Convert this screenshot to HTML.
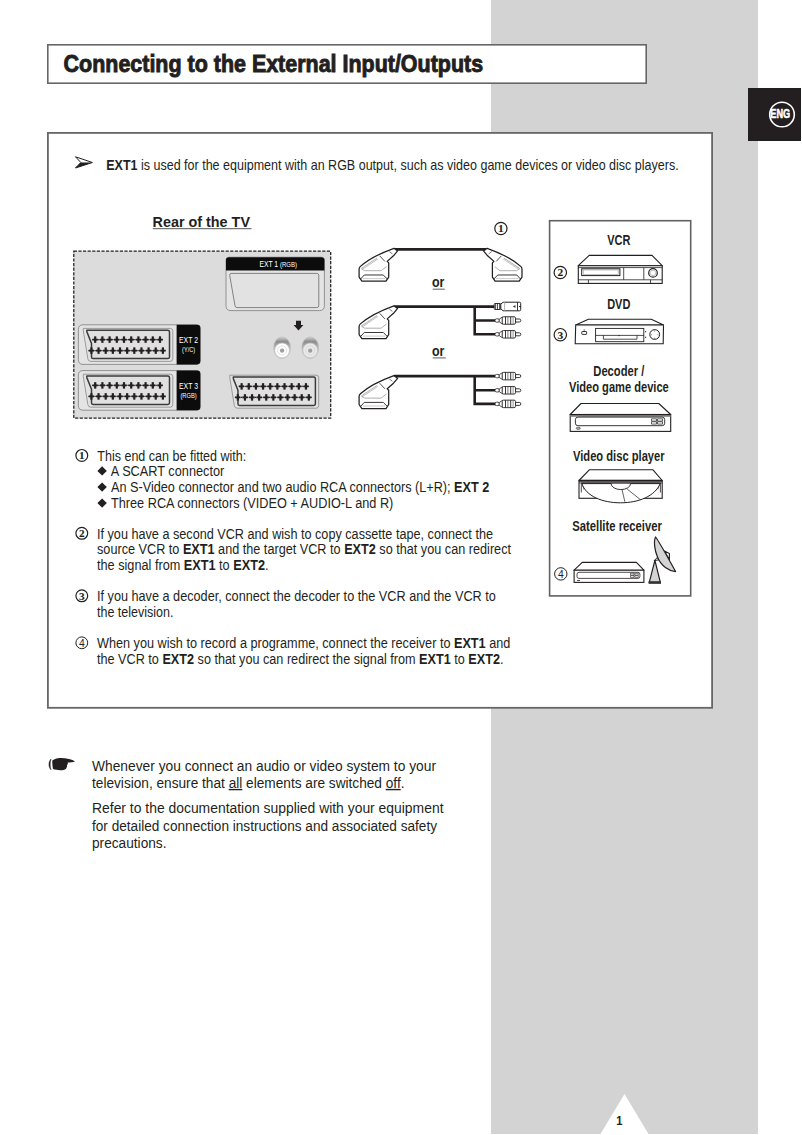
<!DOCTYPE html>
<html><head><meta charset="utf-8">
<style>
html,body{margin:0;padding:0;background:#fff;}
body{width:802px;height:1135px;overflow:hidden;position:relative;font-family:"Liberation Sans",sans-serif;}
svg{position:absolute;left:0;top:0;}
.t{font-family:"Liberation Sans",sans-serif;fill:#231f20;}
.b{font-weight:bold;}
</style></head><body>
<svg width="802" height="1135" viewBox="0 0 802 1135">
<rect x="491" y="0" width="267" height="1134" fill="#d3d3d3"/>
<polygon points="624.5,1094 648.5,1134 600.5,1134" fill="#fff"/>
<text class="t b" x="616.3" y="1125" font-size="12.5" textLength="6.2" lengthAdjust="spacingAndGlyphs" >1</text>
<rect x="748" y="88" width="53" height="53" fill="#231f20"/>
<circle cx="782" cy="114.5" r="12.3" fill="none" stroke="#fff" stroke-width="1.6"/>
<text class="b" x="770.3" y="117.8" font-size="12.4" fill="#fff" stroke="#fff" stroke-width="0.55" font-family="Liberation Sans" textLength="19.8" lengthAdjust="spacingAndGlyphs">ENG</text>
<rect x="47.8" y="44.8" width="598.4" height="38.4" fill="#fff" stroke="#666" stroke-width="1.6"/>
<text class="t b" x="63.6" y="71.8" font-size="23.2" textLength="419.5" lengthAdjust="spacingAndGlyphs" stroke="#231f20" stroke-width="0.9">Connecting to the External Input/Outputs</text>
<rect x="47.9" y="132.9" width="664.2" height="574.9" fill="#fff" stroke="#666" stroke-width="1.8"/>
<rect x="549.6" y="220.7" width="141.1" height="375.2" fill="#fff" stroke="#616161" stroke-width="1.6"/>
<path d="M75.5,156.8 L92.4,162.5 L75.5,168 L80.8,162.5 Z" fill="#fff" stroke="#231f20" stroke-width="1"/>
<path d="M80.8,162.5 L92.4,162.5 L75.5,168 Z" fill="#231f20"/>
<text class="t" x="106.2" y="170.0" font-size="14.1" textLength="572.5" lengthAdjust="spacingAndGlyphs" ><tspan font-weight="bold">EXT1</tspan> is used for the equipment with an RGB output, such as video game devices or video disc players.</text>
<text class="t b" x="152.5" y="226.7" font-size="15.3" textLength="97.5" lengthAdjust="spacingAndGlyphs" >Rear of the TV</text>
<line x1="152.8" y1="228.7" x2="251.5" y2="228.7" stroke="#555" stroke-width="1"/>
<text class="t b" x="432" y="286.8" font-size="15" textLength="12.4" lengthAdjust="spacingAndGlyphs" >or</text>
<line x1="432.7" y1="289.2" x2="444.8" y2="289.2" stroke="#777" stroke-width="1.2"/>
<text class="t b" x="432" y="355.7" font-size="15" textLength="12.4" lengthAdjust="spacingAndGlyphs" >or</text>
<line x1="432.7" y1="357.9" x2="445.8" y2="357.9" stroke="#777" stroke-width="1.2"/>
<circle cx="500.9" cy="228.5" r="6.1" fill="none" stroke="#231f20" stroke-width="1.2"/>
<text x="500.9" y="232.319" font-size="11.4" font-family="Liberation Serif" font-weight="bold" fill="#231f20" stroke="#231f20" stroke-width="0.1" text-anchor="middle">1</text>
<text class="t b" x="607.2" y="244.9" font-size="14" textLength="23.2" lengthAdjust="spacingAndGlyphs" >VCR</text>
<text class="t b" x="607.2" y="308.8" font-size="14" textLength="23.2" lengthAdjust="spacingAndGlyphs" >DVD</text>
<text class="t b" x="593.3" y="375.8" font-size="14" textLength="51" lengthAdjust="spacingAndGlyphs" >Decoder /</text>
<text class="t b" x="569" y="391.5" font-size="14" textLength="99.8" lengthAdjust="spacingAndGlyphs" >Video game device</text>
<text class="t b" x="573" y="460.8" font-size="14" textLength="91.6" lengthAdjust="spacingAndGlyphs" >Video disc player</text>
<text class="t b" x="572.3" y="531" font-size="14" textLength="89.6" lengthAdjust="spacingAndGlyphs" >Satellite receiver</text>
<circle cx="81.8" cy="455.4" r="5.9" fill="none" stroke="#231f20" stroke-width="1.2"/>
<text x="81.8" y="459.152" font-size="11.2" font-family="Liberation Serif" font-weight="bold" fill="#231f20" stroke="#231f20" stroke-width="0.1" text-anchor="middle">1</text>
<text class="t" x="97.3" y="461.0" font-size="14" textLength="149" lengthAdjust="spacingAndGlyphs" >This end can be fitted with:</text>
<path d="M102.1,466.29999999999995 L106.8,470.9 L102.1,475.5 L97.39999999999999,470.9 Z" fill="#231f20"/>
<text class="t" x="110.8" y="475.6" font-size="14" textLength="113.5" lengthAdjust="spacingAndGlyphs" >A SCART connector</text>
<path d="M102.1,482.5 L106.8,487.1 L102.1,491.70000000000005 L97.39999999999999,487.1 Z" fill="#231f20"/>
<text class="t" x="111" y="492.1" font-size="14" textLength="378.3" lengthAdjust="spacingAndGlyphs" >An S-Video connector and two audio RCA connectors (L+R); <tspan font-weight="bold">EXT 2</tspan></text>
<path d="M102.1,498.5 L106.8,503.1 L102.1,507.70000000000005 L97.39999999999999,503.1 Z" fill="#231f20"/>
<text class="t" x="111" y="508.0" font-size="14" textLength="282.3" lengthAdjust="spacingAndGlyphs" >Three RCA connectors (VIDEO + AUDIO-L and R)</text>
<circle cx="81.8" cy="533.3" r="5.9" fill="none" stroke="#231f20" stroke-width="1.2"/>
<text x="81.8" y="537.0519999999999" font-size="11.2" font-family="Liberation Serif" font-weight="bold" fill="#231f20" stroke="#231f20" stroke-width="0.1" text-anchor="middle">2</text>
<text class="t" x="97" y="538.8" font-size="14" textLength="396" lengthAdjust="spacingAndGlyphs" >If you have a second VCR and wish to copy cassette tape, connect the</text>
<text class="t" x="97" y="554.0" font-size="14" textLength="414" lengthAdjust="spacingAndGlyphs" >source VCR to <tspan font-weight="bold">EXT1</tspan> and the target VCR to <tspan font-weight="bold">EXT2</tspan> so that you can redirect</text>
<text class="t" x="97" y="569.8" font-size="14" textLength="171.5" lengthAdjust="spacingAndGlyphs" >the signal from <tspan font-weight="bold">EXT1</tspan> to <tspan font-weight="bold">EXT2</tspan>.</text>
<circle cx="81.8" cy="595.8" r="5.9" fill="none" stroke="#231f20" stroke-width="1.2"/>
<text x="81.8" y="599.5519999999999" font-size="11.2" font-family="Liberation Serif" font-weight="bold" fill="#231f20" stroke="#231f20" stroke-width="0.1" text-anchor="middle">3</text>
<text class="t" x="97" y="601.3" font-size="14" textLength="398.8" lengthAdjust="spacingAndGlyphs" >If you have a decoder, connect the decoder to the VCR and the VCR to</text>
<text class="t" x="97" y="616.9" font-size="14" textLength="76.5" lengthAdjust="spacingAndGlyphs" >the television.</text>
<circle cx="81.8" cy="642.8" r="5.9" fill="none" stroke="#231f20" stroke-width="1.0"/>
<text x="81.8" y="646.5" font-size="10.4" font-family="Liberation Sans" fill="#231f20" text-anchor="middle">4</text>
<text class="t" x="97" y="648.0" font-size="14" textLength="413.3" lengthAdjust="spacingAndGlyphs" >When you wish to record a programme, connect the receiver to <tspan font-weight="bold">EXT1</tspan> and</text>
<text class="t" x="97" y="663.5" font-size="14" textLength="406.5" lengthAdjust="spacingAndGlyphs" >the VCR to <tspan font-weight="bold">EXT2</tspan> so that you can redirect the signal from <tspan font-weight="bold">EXT1</tspan> to <tspan font-weight="bold">EXT2</tspan>.</text>
<text class="t" x="92" y="771.2" font-size="13.8" textLength="344" lengthAdjust="spacingAndGlyphs" >Whenever you connect an audio or video system to your</text>
<text class="t" x="92" y="787.9" font-size="13.8" textLength="312.5" lengthAdjust="spacingAndGlyphs" >television, ensure that <tspan text-decoration="underline">all</tspan> elements are switched <tspan text-decoration="underline">off</tspan>.</text>
<text class="t" x="92" y="813.1" font-size="13.8" textLength="351.5" lengthAdjust="spacingAndGlyphs" >Refer to the documentation supplied with your equipment</text>
<text class="t" x="92" y="830.8" font-size="13.8" textLength="345" lengthAdjust="spacingAndGlyphs" >for detailed connection instructions and associated safety</text>
<text class="t" x="92" y="848.0" font-size="13.8" textLength="74.5" lengthAdjust="spacingAndGlyphs" >precautions.</text>
<path d="M52.3,760.6 C54,759.3 56,758.5 58,758.2 C61,757.7 65,758 69,759.1 C71.5,759.8 73.5,760.5 75,761.4 C73.5,762 70,762.3 67.5,762.5 C68.2,763.3 68,764.5 66.8,765.3 C67.3,766 67.3,767 66.5,767.6 C66.5,768.8 65.5,769.8 63.7,770 C60,770.4 56,770.2 53,769.1 C52.4,766 52.2,763 52.3,760.6 Z" fill="#231f20"/>
<path d="M51,759.1 C48.3,761.8 48.3,767.2 51,769.8 C49.9,767 49.9,762 51,759.1 Z" fill="#231f20" stroke="#231f20" stroke-width="0.5"/>
<defs>
<g id="rca">
<rect x="0" y="-1.7" width="4.5" height="3.4" rx="1.6" fill="#fff" stroke="#231f20" stroke-width="0.8"/>
<path d="M4.2,-1.3 L7.5,-3.6 L7.5,3.6 L4.2,1.3 Z" fill="#fff" stroke="#231f20" stroke-width="0.8"/>
<rect x="7.2" y="-3.75" width="13.3" height="7.5" rx="1.4" fill="#fff" stroke="#231f20" stroke-width="0.9"/>
<line x1="10.5" y1="-3.7" x2="10.5" y2="3.7" stroke="#231f20" stroke-width="0.9"/>
<line x1="12.9" y1="-3.7" x2="12.9" y2="3.7" stroke="#555" stroke-width="0.8"/>
<line x1="15.7" y1="-3.7" x2="15.7" y2="3.7" stroke="#231f20" stroke-width="0.9"/>
<line x1="18.1" y1="-3.7" x2="18.1" y2="3.7" stroke="#666" stroke-width="0.7"/>
<path d="M20.5,-1.5 L24.3,-1.5 A1.5,1.5 0 0 1 24.3,1.5 L20.5,1.5 Z" fill="#fff" stroke="#231f20" stroke-width="0.9"/>
</g>
<g id="svid">
<rect x="-0.3" y="-3" width="6.6" height="6" rx="0.8" fill="#fff" stroke="#231f20" stroke-width="0.9"/>
<line x1="1.1" y1="-3" x2="1.1" y2="3" stroke="#231f20" stroke-width="0.8"/>
<line x1="3" y1="-3" x2="3" y2="3" stroke="#231f20" stroke-width="0.8"/>
<line x1="5.1" y1="-3" x2="5.1" y2="3" stroke="#231f20" stroke-width="0.8"/>
<path d="M6.3,-2.4 L8.6,-4.3 L25,-4.3 Q26.2,-4.3 26.2,-3.1 L26.2,3.1 Q26.2,4.3 25,4.3 L8.6,4.3 L6.3,2.4 Z" fill="#fff" stroke="#231f20" stroke-width="1"/>
<line x1="10.1" y1="-4.2" x2="10.1" y2="4.2" stroke="#aaa" stroke-width="0.9"/>
<line x1="23" y1="-4.2" x2="23" y2="4.2" stroke="#231f20" stroke-width="0.9"/>
<path d="M24.6,-0.4 L26.2,-0.4 L26.2,0.6 L24.6,0.6 Z" fill="#231f20"/>
<path d="M18.2,0 L21,-1.6 L21,1.6 Z" fill="#444"/>
</g>
<g id="splug">
<path d="M-2.9,-1.1 C-12,2.2 -28,9.5 -36.4,17 Q-37.7,18.2 -37.7,19.8 L-37.7,27.7 L-34.9,31.8 L-10.8,31.8 L-8.1,27.7 L-8.1,13.5 L-9.6,12 L-3.3,6.4 L0.8,1.5 Z" fill="#fff" stroke="#231f20" stroke-width="1.25" stroke-linejoin="round"/>
<path d="M-17.1,6.4 L-11.9,12" stroke="#231f20" stroke-width="0.8" fill="none"/>
<path d="M-7.4,2.2 L-4.4,4.5" stroke="#231f20" stroke-width="0.6" fill="none"/>
<path d="M-35.1,19.5 L-19.4,9" stroke="#888" stroke-width="2" stroke-dasharray="0.6,0.6" fill="none"/>
<path d="M-10.4,17.2 L-15.6,21.3 L-32.1,21.3 L-35.1,19.5" stroke="#999" stroke-width="0.8" fill="none"/>
<path d="M-9.5,29.6 L-13.5,25.6 L-32.5,25.6 L-36.2,29.6" stroke="#231f20" stroke-width="0.9" fill="none"/>
<line x1="-11.5" y1="29.2" x2="-34" y2="29.2" stroke="#bbb" stroke-width="0.8"/>
</g>
<g id="sock"><path d="M0,0 L87,0 Q89.5,0 89.5,2.5 L89.5,30.5 Q89.5,33 87,33 L7.5,33 Q5,33 4.6,30.5 L0,2.5 Z" fill="#e2e2e2" stroke="#888" stroke-width="0.8"/><path d="M3.6,1.8 L84.5,1.8 Q86.2,1.8 86.2,3.5 L86.2,28.5 Q86.2,30.2 84.5,30.2 L9.8,30.2 Q8.2,30.2 8.2,28.5 L8.2,15 L3.6,3.5 Q3.4,1.8 3.6,1.8 Z" fill="#e0e0e0" stroke="#3a3a3a" stroke-width="1.5"/><line x1="8.9" y1="11.2" x2="79.7" y2="11.2" stroke="#231f20" stroke-width="1.1" stroke-dasharray="1.3,0.7"/><rect x="10.80" y="7.949999999999999" width="2.2" height="6.5" fill="#231f20"/><rect x="9.30" y="10.299999999999999" width="5.2" height="1.8" fill="#231f20"/><rect x="18.00" y="7.949999999999999" width="2.2" height="6.5" fill="#231f20"/><rect x="16.50" y="10.299999999999999" width="5.2" height="1.8" fill="#231f20"/><rect x="25.20" y="7.949999999999999" width="2.2" height="6.5" fill="#231f20"/><rect x="23.70" y="10.299999999999999" width="5.2" height="1.8" fill="#231f20"/><rect x="32.40" y="7.949999999999999" width="2.2" height="6.5" fill="#231f20"/><rect x="30.90" y="10.299999999999999" width="5.2" height="1.8" fill="#231f20"/><rect x="39.60" y="7.949999999999999" width="2.2" height="6.5" fill="#231f20"/><rect x="38.10" y="10.299999999999999" width="5.2" height="1.8" fill="#231f20"/><rect x="46.80" y="7.949999999999999" width="2.2" height="6.5" fill="#231f20"/><rect x="45.30" y="10.299999999999999" width="5.2" height="1.8" fill="#231f20"/><rect x="54.00" y="7.949999999999999" width="2.2" height="6.5" fill="#231f20"/><rect x="52.50" y="10.299999999999999" width="5.2" height="1.8" fill="#231f20"/><rect x="61.20" y="7.949999999999999" width="2.2" height="6.5" fill="#231f20"/><rect x="59.70" y="10.299999999999999" width="5.2" height="1.8" fill="#231f20"/><rect x="68.40" y="7.949999999999999" width="2.2" height="6.5" fill="#231f20"/><rect x="66.90" y="10.299999999999999" width="5.2" height="1.8" fill="#231f20"/><rect x="75.60" y="7.949999999999999" width="2.2" height="6.5" fill="#231f20"/><rect x="74.10" y="10.299999999999999" width="5.2" height="1.8" fill="#231f20"/><line x1="5.1" y1="22.2" x2="82.6" y2="22.2" stroke="#231f20" stroke-width="1.1" stroke-dasharray="1.3,0.7"/><rect x="7.00" y="18.95" width="2.2" height="6.5" fill="#231f20"/><rect x="5.50" y="21.3" width="5.2" height="1.8" fill="#231f20"/><rect x="14.15" y="18.95" width="2.2" height="6.5" fill="#231f20"/><rect x="12.65" y="21.3" width="5.2" height="1.8" fill="#231f20"/><rect x="21.30" y="18.95" width="2.2" height="6.5" fill="#231f20"/><rect x="19.80" y="21.3" width="5.2" height="1.8" fill="#231f20"/><rect x="28.45" y="18.95" width="2.2" height="6.5" fill="#231f20"/><rect x="26.95" y="21.3" width="5.2" height="1.8" fill="#231f20"/><rect x="35.60" y="18.95" width="2.2" height="6.5" fill="#231f20"/><rect x="34.10" y="21.3" width="5.2" height="1.8" fill="#231f20"/><rect x="42.75" y="18.95" width="2.2" height="6.5" fill="#231f20"/><rect x="41.25" y="21.3" width="5.2" height="1.8" fill="#231f20"/><rect x="49.90" y="18.95" width="2.2" height="6.5" fill="#231f20"/><rect x="48.40" y="21.3" width="5.2" height="1.8" fill="#231f20"/><rect x="57.05" y="18.95" width="2.2" height="6.5" fill="#231f20"/><rect x="55.55" y="21.3" width="5.2" height="1.8" fill="#231f20"/><rect x="64.20" y="18.95" width="2.2" height="6.5" fill="#231f20"/><rect x="62.70" y="21.3" width="5.2" height="1.8" fill="#231f20"/><rect x="71.35" y="18.95" width="2.2" height="6.5" fill="#231f20"/><rect x="69.85" y="21.3" width="5.2" height="1.8" fill="#231f20"/><rect x="78.50" y="18.95" width="2.2" height="6.5" fill="#231f20"/><rect x="77.00" y="21.3" width="5.2" height="1.8" fill="#231f20"/></g>
<linearGradient id="jg" x1="0" y1="0" x2="0" y2="1"><stop offset="0" stop-color="#d0d0d0"/><stop offset="0.22" stop-color="#8c8c8c"/><stop offset="0.45" stop-color="#b4b4b4"/><stop offset="1" stop-color="#e0e0e0"/></linearGradient>
</defs>
<rect x="73.8" y="251.2" width="256.9" height="166.9" fill="#dcdcdc" stroke="#231f20" stroke-width="1.25" stroke-dasharray="3.2,1.4"/>
<path d="M226,260 Q226,257.2 229,257.2 L321.4,257.2 Q324.4,257.2 324.4,260 L324.4,305.6 Q324.4,310.6 319.4,310.6 L231,310.6 Q226,310.6 226,305.6 Z" fill="#e4e4e4" stroke="#888" stroke-width="0.9"/>
<path d="M226,260 Q226,257.2 229,257.2 L321.4,257.2 Q324.4,257.2 324.4,260 L324.4,270.4 L226,270.4 Z" fill="#0c0c0c"/>
<path d="M231,273.4 L316.8,273.4 Q318.8,273.4 318.8,275.4 L318.8,305.6 Q318.8,307.6 316.8,307.6 L237,307.6 Q235.2,307.6 235,305.6 L229.7,275.4 Q229.7,273.4 231,273.4 Z" fill="#e2e2e2" stroke="#777" stroke-width="0.9"/>
<text x="259.4" y="266.8" font-family="Liberation Sans" font-size="8.6" fill="#fff" textLength="37.6" lengthAdjust="spacingAndGlyphs">EXT 1 <tspan font-size="7.6">(RGB)</tspan></text>
<path d="M83,324.8 L197,324.8 Q200.3,324.8 200.3,328.1 L200.3,361.1 Q200.3,364.40000000000003 197,364.40000000000003 L83,364.40000000000003 Q78.4,364.40000000000003 78.4,359.8 L78.4,329.40000000000003 Q78.4,324.8 83,324.8 Z" fill="#e4e4e4" stroke="#888" stroke-width="0.9"/>
<path d="M176.6,324.8 L197,324.8 Q200.3,324.8 200.3,328.1 L200.3,361.1 Q200.3,364.40000000000003 197,364.40000000000003 L176.6,364.40000000000003 Z" fill="#0c0c0c"/>
<text x="179" y="343.40000000000003" font-family="Liberation Sans" font-size="9" fill="#fff" textLength="19" lengthAdjust="spacingAndGlyphs">EXT 2</text>
<text x="182.1" y="351.90000000000003" font-family="Liberation Sans" font-size="7.6" fill="#fff" textLength="13" lengthAdjust="spacingAndGlyphs">(Y/C)</text>
<use href="#sock" x="83.3" y="328.40000000000003"/>
<path d="M83,370.6 L197,370.6 Q200.3,370.6 200.3,373.90000000000003 L200.3,406.90000000000003 Q200.3,410.20000000000005 197,410.20000000000005 L83,410.20000000000005 Q78.4,410.20000000000005 78.4,405.6 L78.4,375.20000000000005 Q78.4,370.6 83,370.6 Z" fill="#e4e4e4" stroke="#888" stroke-width="0.9"/>
<path d="M176.6,370.6 L197,370.6 Q200.3,370.6 200.3,373.90000000000003 L200.3,406.90000000000003 Q200.3,410.20000000000005 197,410.20000000000005 L176.6,410.20000000000005 Z" fill="#0c0c0c"/>
<text x="179" y="389.20000000000005" font-family="Liberation Sans" font-size="9" fill="#fff" textLength="19" lengthAdjust="spacingAndGlyphs">EXT 3</text>
<text x="180.45" y="397.70000000000005" font-family="Liberation Sans" font-size="7.6" fill="#fff" textLength="16.3" lengthAdjust="spacingAndGlyphs">(RGB)</text>
<use href="#sock" x="83.3" y="374.20000000000005"/>
<use href="#sock" transform="translate(229.8,375.2) scale(0.993,1)"/>
<path d="M296,320.7 L301,320.7 L301,325.1 L303.4,325.1 L298.5,330.6 L293.6,325.1 L296,325.1 Z" fill="#231f20"/>
<ellipse cx="282.1" cy="347.8" rx="8.4" ry="10.9" fill="url(#jg)" stroke="#bbb" stroke-width="0.6"/>
<circle cx="282.1" cy="350.4" r="7.4" fill="#fff" stroke="#bbb" stroke-width="0.7"/>
<circle cx="282.1" cy="350.4" r="4.6" fill="none" stroke="#ccc" stroke-width="0.6"/>
<circle cx="282.1" cy="350.6" r="2.2" fill="#a0a0a0"/>
<ellipse cx="310.2" cy="347.8" rx="8.4" ry="10.9" fill="url(#jg)" stroke="#bbb" stroke-width="0.6"/>
<circle cx="310.2" cy="350.4" r="7.4" fill="#eaeaea" stroke="#bbb" stroke-width="0.7"/>
<circle cx="310.2" cy="350.4" r="4.6" fill="none" stroke="#ccc" stroke-width="0.6"/>
<circle cx="310.2" cy="350.6" r="2.2" fill="#a0a0a0"/>
<line x1="394" y1="249.4" x2="487" y2="249.4" stroke="#231f20" stroke-width="2.6"/>
<use href="#splug" x="396.8" y="249.4"/>
<use href="#splug" transform="translate(484.3,249.4) scale(-1,1)"/>
<path d="M394,306.6 L495,306.6 M474.7,306.6 L474.7,334.3 L496,334.3 M474.7,320.5 L496,320.5" stroke="#231f20" stroke-width="2.6" fill="none" stroke-linejoin="miter"/>
<use href="#splug" x="396.8" y="306.9"/>
<use href="#svid" x="494.5" y="306.5"/>
<use href="#rca" x="495" y="320.5"/>
<use href="#rca" x="495" y="334.3"/>
<path d="M394,376.1 L495,376.1 M474.7,376.1 L474.7,403.9 L496,403.9 M474.7,390.3 L496,390.3" stroke="#231f20" stroke-width="2.6" fill="none"/>
<use href="#splug" x="396.8" y="376.8"/>
<use href="#rca" x="495" y="376.1"/>
<use href="#rca" x="495" y="390.3"/>
<use href="#rca" x="495" y="403.9"/>
<path d="M589.2,255.4 L652,255.4 L662.2,265.7 L578.3,265.7 Z" fill="#fff" stroke="#231f20" stroke-width="1.1" stroke-linejoin="round"/>
<rect x="578.3" y="265.7" width="83.9" height="17.7" fill="#fff" stroke="#231f20" stroke-width="1.1"/>
<rect x="581.7" y="268.8" width="38.2" height="6.8" fill="#fff" stroke="#231f20" stroke-width="1"/>
<rect x="583.2" y="270" width="35" height="4.4" fill="none" stroke="#999" stroke-width="0.6"/>
<path d="M623.7,267.6 L623.7,279.8 M643.8,267.6 L643.8,279.8 M578.3,279.8 L662.2,279.8 M588.4,279.8 L588.4,283.4 M650.5,279.8 L650.5,283.4 M578.3,267.6 L662.2,267.6" stroke="#231f20" stroke-width="0.8" fill="none"/>
<circle cx="653" cy="272.9" r="4.3" fill="#fff" stroke="#231f20" stroke-width="1.2"/>
<circle cx="653" cy="272.9" r="2.8" fill="none" stroke="#999" stroke-width="0.6"/>
<path d="M588.4,319.3 L651.3,319.3 L663.5,325 L575.7,325 Z" fill="#fff" stroke="#231f20" stroke-width="1.1" stroke-linejoin="round"/>
<path d="M575.7,325 L663.5,325 L663.2,343.7 L575.2,343.7 Z" fill="#fff" stroke="#231f20" stroke-width="1.1"/>
<rect x="595.6" y="328.4" width="48.2" height="13.3" fill="#fff" stroke="#231f20" stroke-width="0.9"/>
<path d="M595.6,335.4 L643.8,335.4 M603.4,335.4 L603.4,339.2 L637,339.2 L637,335.4" stroke="#231f20" stroke-width="0.8" fill="none"/>
<circle cx="654.7" cy="334.5" r="4.9" fill="#fff" stroke="#231f20" stroke-width="1"/>
<rect x="581.8" y="331.5" width="4.8" height="2.9" rx="0.5" fill="none" stroke="#231f20" stroke-width="0.9"/><line x1="584.2" y1="329.2" x2="584.2" y2="331.5" stroke="#231f20" stroke-width="0.6"/>
<path d="M645,331 L646.6,331.8 L645,332.6 Z M645,336.5 L646.6,337.3 L645,338.1 Z" fill="#231f20"/>
<path d="M618,335.2 L620,335.2 L619,336.4 Z" fill="#231f20"/>
<path d="M575.7,325.6 L663.5,325.6" stroke="#888" stroke-width="0.6"/>
<path d="M654.6,330.6 L654.6,331.6 M654.6,337.8 L654.6,338.8 M650.8,334.7 L651.8,334.7 M657.4,334.7 L658.4,334.7" stroke="#231f20" stroke-width="0.6"/>
<path d="M581,403.5 L658.8,403.5 L670.7,414.5 L570.2,414.5 Z" fill="#fff" stroke="#231f20" stroke-width="1.1" stroke-linejoin="round"/>
<rect x="570.2" y="414.5" width="100.5" height="16.9" fill="#fff" stroke="#231f20" stroke-width="1.1"/>
<line x1="570.2" y1="415.9" x2="670.7" y2="415.9" stroke="#777" stroke-width="1.6"/>
<rect x="575.4" y="417.1" width="89.3" height="8.6" rx="2.5" fill="#fff" stroke="#231f20" stroke-width="0.9"/>
<path d="M651.5,418.8 h5 v2.3 h-5 z M651.5,421.8 h5 v2.3 h-5 z M657.5,418.8 h5 v2.3 h-5 z M657.5,421.8 h5 v2.3 h-5 z" fill="none" stroke="#231f20" stroke-width="0.7"/>
<ellipse cx="578.3" cy="428.3" rx="2.2" ry="1.1" fill="#aaa" stroke="#231f20" stroke-width="0.5"/>
<path d="M589.3,469.8 L653,469.8 L662.2,480.5 L579,480.5 Z" fill="#fff" stroke="#231f20" stroke-width="1.1" stroke-linejoin="round"/>
<rect x="579" y="480.5" width="83.2" height="17.8" fill="#fff" stroke="#231f20" stroke-width="1.1"/>
<line x1="579" y1="480.8" x2="662.2" y2="480.8" stroke="#231f20" stroke-width="1.9"/>
<path d="M581.3,492.5 L581.3,482.9 L660.4,482.9 L660.4,492.5" stroke="#231f20" stroke-width="0.8" fill="none"/>
<path d="M582,484.5 L583.8,484.5 L583.8,490.5 Z M659.7,484.5 L657.9,484.5 L657.9,490.5 Z" fill="#666"/>
<path d="M581.9,483.6 C586,496 602,502.8 620.5,502.8 C639,502.8 655,496 660.2,483.6 Z" fill="#fff" stroke="#231f20" stroke-width="1"/>
<path d="M611.1,483.6 A9.75,6 0 0 0 630.6,483.6" fill="#fff" stroke="#231f20" stroke-width="0.9"/>
<path d="M622,489.6 L624.9,501.8 M627.2,489.1 L640.4,499.6" stroke="#231f20" stroke-width="0.7" fill="none"/>
<line x1="579" y1="482.9" x2="662.2" y2="482.9" stroke="#231f20" stroke-width="0.8"/>
<path d="M582.3,562.4 L636.4,562.4 L643.9,570.2 L574.1,570.2 Z" fill="#fff" stroke="#231f20" stroke-width="1.1" stroke-linejoin="round"/>
<rect x="574.1" y="570.2" width="69.8" height="12.2" fill="#fff" stroke="#231f20" stroke-width="1.1"/>
<rect x="577" y="572.3" width="62.9" height="6.1" rx="2" fill="#fff" stroke="#231f20" stroke-width="0.8"/>
<path d="M630.5,573.3 h3.5 v1.8 h-3.5 z M630.5,575.6 h3.5 v1.8 h-3.5 z M634.8,573.3 h3.5 v1.8 h-3.5 z M634.8,575.6 h3.5 v1.8 h-3.5 z" fill="none" stroke="#231f20" stroke-width="0.6"/>
<line x1="577" y1="580.5" x2="580" y2="580.5" stroke="#231f20" stroke-width="0.8"/>
<path d="M654.9,560.4 L660.4,582.6 L649.2,582.6 Z" fill="#d4d4d4" stroke="#231f20" stroke-width="1.2" stroke-linejoin="round"/>
<rect x="648.6" y="581.2" width="12.4" height="2.6" fill="#333"/>
<path d="M654.2,560.6 L657.2,557.6 L659.2,559.8 Z" fill="#fff" stroke="#231f20" stroke-width="1"/>
<path d="M664.4,551 L669.4,553.6 L669.4,559.6 Z" fill="#fff" stroke="#231f20" stroke-width="1.1" stroke-linejoin="round"/>
<path d="M655.6,537 C660,543 668,558 675.6,571.6 C669,571 661,566 657.5,557 C654.5,550 653.5,541 655.6,537 Z" fill="#d4d4d4" stroke="#231f20" stroke-width="1.2" stroke-linejoin="round"/>
<circle cx="560.3" cy="272.5" r="6.2" fill="none" stroke="#231f20" stroke-width="1.2"/>
<text x="560.3" y="276.319" font-size="11.4" font-family="Liberation Serif" font-weight="bold" fill="#231f20" stroke="#231f20" stroke-width="0.1" text-anchor="middle">2</text>
<circle cx="560.3" cy="334.7" r="6.2" fill="none" stroke="#231f20" stroke-width="1.2"/>
<text x="560.3" y="338.519" font-size="11.4" font-family="Liberation Serif" font-weight="bold" fill="#231f20" stroke="#231f20" stroke-width="0.1" text-anchor="middle">3</text>
<circle cx="560.8" cy="573.9" r="6.2" fill="none" stroke="#231f20" stroke-width="1.0"/>
<text x="560.8" y="577.6" font-size="10.4" font-family="Liberation Sans" fill="#231f20" text-anchor="middle">4</text>
</svg>
</body></html>
